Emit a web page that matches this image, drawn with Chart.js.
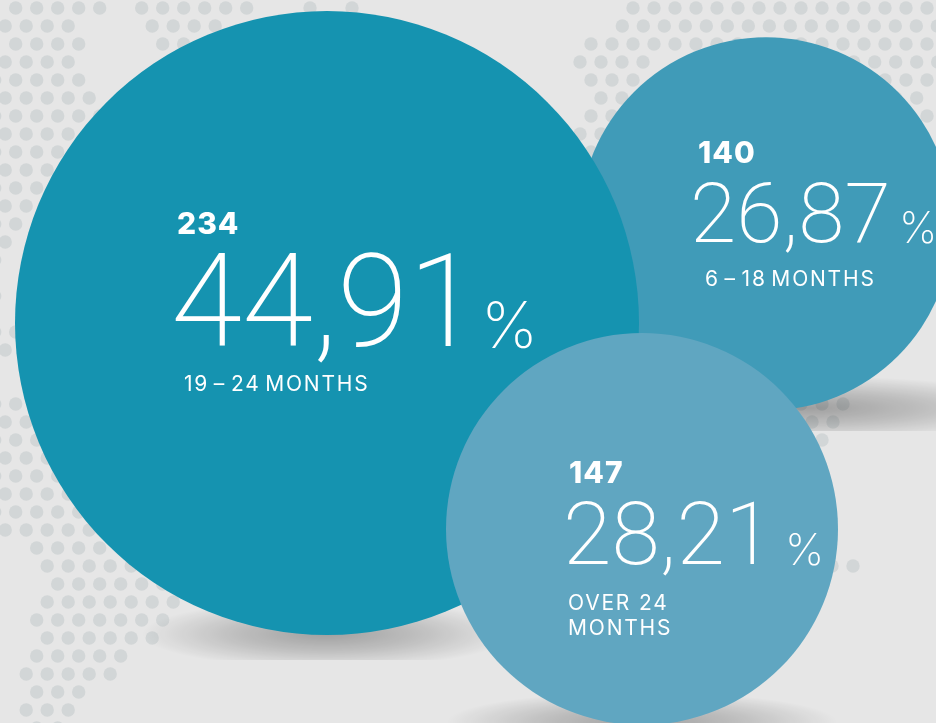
<!DOCTYPE html>
<html>
<head>
<meta charset="utf-8">
<title>Months</title>
<script src="https://cdn.jsdelivr.net/npm/chart.js@4/dist/chart.umd.min.js"></script>
<style>
  html, body { margin: 0; padding: 0; background: #e6e6e6; overflow: hidden; }
  #wrap { position: relative; width: 936px; height: 723px; }
  canvas { display: block; }
</style>
</head>
<body>
<div id="wrap"><canvas id="bubbles" width="936" height="723"></canvas></div>
<script>
// Drawn back to front: 19-24 sits over 6-18, and over 24 sits on top of both
const categories = ['6 – 18 MONTHS', '19 – 24 MONTHS', 'OVER 24 MONTHS'];
const counts = [140, 234, 147];
const percents = ['26,87', '44,91', '28,21'];

// Bubbles are laid out by hand in the picture, radius follows the count
const centres = [[766, 224], [327, 323], [642, 529]];
const pxPerCount = 4 / 3;
const colours = ['#409bb8', '#1593b0', '#60a6c1'];

// Text block of each bubble: x and baseline of each line, font sizes
const textBoxes = [
  { countX: 698, countY: 163, bigX: 690, bigY: 242, bigSize: 84, pctX: 899, pctY: 243, pctSize: 43, labelX: 705, labelY: 286 },
  { countX: 177, countY: 234, bigX: 171, bigY: 346, bigSize: 129, pctX: 481, pctY: 348, pctSize: 64, labelX: 184, labelY: 391 },
  { countX: 569, countY: 483, bigX: 563, bigY: 564, bigSize: 88, pctX: 785, pctY: 565, pctSize: 44, labelX: 568, labelY: 610 }
];

// Map dots in the background: [row y, first x, how many]
const dotRuns = [
  [8, 15.7, 5], [8, 141.7, 6], [8, 310, 1], [8, 352, 1], [8, 633, 15],
  [26, 5.2, 4], [26, 152.2, 4], [26, 622.3, 16],
  [44, 15.7, 4], [44, 162.7, 2], [44, 591, 17],
  [62, 5.2, 4], [62, 580, 4], [62, 853.7, 5],
  [80, -5.3, 5], [80, 591, 3], [80, 885, 3],
  [98, 5.2, 5], [98, 601, 2], [98, 895.7, 2],
  [116, -5.3, 6], [116, 591, 2], [116, 927, 1],
  [134, 5.2, 4], [134, 580, 2],
  [152, -5.3, 4], [152, 591, 1],
  [170, 5.2, 3],
  [188, -5.3, 3],
  [206, 5.2, 2], [224, -5.3, 2], [242, 5.2, 1], [260, -5.3, 1], [296, -5.3, 1],
  [332, -5.3, 2], [350, 5.2, 1], [404, -5.3, 2],
  [422, 5.2, 2], [440, -5.3, 3], [458, 5.2, 3], [476, -5.3, 4],
  [494, 5.2, 4], [512, -5.3, 5], [530, 5.2, 5],
  [548, 36.7, 4], [566, 47.2, 5], [584, 57.7, 6], [602, 47.2, 7],
  [620, 36.7, 7], [638, 47.2, 6], [656, 36.7, 5], [674, 26.2, 5],
  [692, 36.7, 3], [710, 26.2, 3], [728, 36.7, 2],
  [404, 801, 3], [422, 812, 2], [440, 822, 1], [566, 832, 2]
];
const dotPoints = [];
dotRuns.forEach(function(run) {
  for (let i = 0; i < run[2]; i++) {
    dotPoints.push({ x: run[1] + i * 21, y: run[0], r: 6.7 });
  }
});

// Soft shadows under the bubbles: ellipse centre, radii, flat cut at the bottom
const shadows = [
  { x: 327, y: 634, rx: 185, ry: 34, cut: 660 },
  { x: 810, y: 408, rx: 230, ry: 32, cut: 431 },
  { x: 642, y: 722, rx: 195, ry: 30, cut: 723 }
];

const shadowPlugin = {
  id: 'shadowPlugin',
  afterDatasetDraw: function(chart, args) {
    if (args.index !== 0) return;
    const ctx = chart.ctx;
    shadows.forEach(function(s) {
      ctx.save();
      ctx.beginPath();
      ctx.rect(s.x - s.rx, s.y - s.ry, s.rx * 2, s.cut - s.y + s.ry);
      ctx.clip();
      ctx.translate(s.x, s.y);
      ctx.scale(1, s.ry / s.rx);
      const g = ctx.createRadialGradient(0, 0, 0, 0, 0, s.rx);
      g.addColorStop(0, 'rgba(0,0,0,0.30)');
      g.addColorStop(0.5, 'rgba(0,0,0,0.17)');
      g.addColorStop(1, 'rgba(0,0,0,0)');
      ctx.fillStyle = g;
      ctx.beginPath();
      ctx.arc(0, 0, s.rx, 0, Math.PI * 2);
      ctx.fill();
      ctx.restore();
    });
  }
};

const labelPlugin = {
  id: 'labelPlugin',
  afterDatasetsDraw: function(chart) {
    const ctx = chart.ctx;
    ctx.save();
    ctx.fillStyle = '#ffffff';
    ctx.textBaseline = 'alphabetic';
    ctx.textAlign = 'left';
    counts.forEach(function(count, i) {
      const t = textBoxes[i];
      ctx.letterSpacing = '1px';
      ctx.font = '800 30px Inter';
      ctx.fillText(String(count), t.countX, t.countY);
      ctx.letterSpacing = '0px';
      ctx.font = '200 ' + t.bigSize + 'px Roboto';
      ctx.fillText(percents[i], t.bigX, t.bigY);
      ctx.font = '200 ' + t.pctSize + 'px Inter';
      ctx.fillText('%', t.pctX, t.pctY);
      ctx.letterSpacing = '1.8px';
      ctx.font = '400 21px Inter';
      if (i === 2) {
        ctx.fillText('OVER 24', t.labelX, t.labelY);
        ctx.fillText('MONTHS', t.labelX, t.labelY + 25);
      } else {
        ctx.wordSpacing = '-3px';
        ctx.fillText(categories[i], t.labelX, t.labelY);
        ctx.wordSpacing = '0px';
      }
    });
    ctx.restore();
  }
};

new Chart(document.getElementById('bubbles').getContext('2d'), {
  type: 'bubble',
  data: {
    datasets: [
      {
        label: 'map dots',
        data: dotPoints,
        backgroundColor: '#d2d6d7',
        borderWidth: 0,
        hoverRadius: 0,
        clip: false,
        order: 2
      },
      {
        label: 'months',
        data: counts.map(function(count, i) {
          return { x: centres[i][0], y: centres[i][1], r: count * pxPerCount };
        }),
        backgroundColor: colours,
        borderWidth: 0,
        hoverRadius: 0,
        clip: false,
        order: 1
      }
    ]
  },
  options: {
    responsive: false,
    animation: false,
    events: [],
    layout: { padding: 0, autoPadding: false },
    scales: {
      x: { type: 'linear', min: 0, max: 936, display: false },
      y: { type: 'linear', min: 0, max: 723, reverse: true, display: false }
    },
    plugins: {
      legend: { display: false },
      tooltip: { enabled: false },
      title: { display: false }
    }
  },
  plugins: [shadowPlugin, labelPlugin]
});
</script>
</body>
</html>
